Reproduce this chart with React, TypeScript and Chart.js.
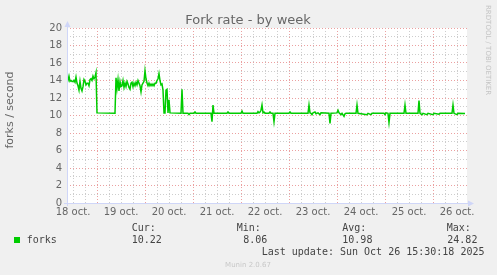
import React, { useEffect, useRef } from 'react';
import { Chart, registerables } from 'chart.js';

Chart.register(...registerables);

const TITLE = 'Fork rate - by week';
const Y_TITLE = 'forks / second';
const SIDE_TEXT = 'RRDTOOL / TOBI OETIKER';
const FOOTER = 'Munin 2.0.67';
const LAST_UPDATE = 'Last update: Sun Oct 26 15:30:18 2025';

// x axis: 30-minute slots starting 18 oct. 09:00 (slot 0), 400 slots shown
const dayLabels = ['18 oct.', '19 oct.', '20 oct.', '21 oct.', '22 oct.', '23 oct.', '24 oct.', '25 oct.', '26 oct.'];

const slots = [
  0, 1, 2, 3, 4, 5, 6, 7, 8, 9, 10, 11, 12, 13, 14, 15, 16, 17, 18, 19, 20, 21, 22, 23, 24, 25, 26, 27, 28, 29,
  30, 48,
  49, 50, 51, 52, 53, 54, 55, 56, 57, 58, 59, 60, 61, 62, 63, 64, 65, 66, 67, 68, 69, 70, 71, 72,
  73, 74, 75, 76, 77, 78, 79, 80, 81, 82, 83, 84, 85, 86, 87, 88, 89, 90, 91, 92, 93, 94, 95, 96,
  97, 98, 99, 100, 101, 102, 103,
  114, 115, 116, 121, 122, 123, 127, 128, 129,
  144, 145, 146, 147, 160, 161, 162, 174, 175, 176,
  190, 191, 192, 193, 194, 195, 196, 197, 198, 202, 203, 204, 206, 207, 208,
  222, 223, 224, 241, 242, 243, 244, 245, 246, 248, 249, 251, 253, 254,
  262, 263, 264, 270, 271, 272, 274, 275, 277, 278, 279,
  289, 290, 291, 300, 301, 304, 305,
  317, 318, 319, 321, 322, 323, 337, 338, 339,
  351, 352, 353, 355, 356, 360, 361, 366, 367, 372, 373,
  385, 386, 387, 390, 391, 398,
];

const forks = [
  13.7, 14.0, 14.5, 13.9, 14.0, 13.9, 13.9, 14.0, 13.8, 14.4, 13.7, 13.4, 12.9, 13.9, 13.1, 12.8, 13.3, 14.1, 13.9, 13.5,
  13.7, 13.7, 13.4, 14.1, 14.2, 14.0, 14.5, 14.2, 14.4, 14.9,
  10.3, 10.25,
  14.3, 13.1, 14.1, 12.8, 13.9, 13.3, 13.4, 14.0, 13.2, 13.7, 13.3, 13.9, 13.6, 13.2, 13.0, 13.7, 13.8, 13.3, 13.7, 13.4,
  13.8, 13.5, 14.0, 13.7, 13.4, 12.7, 13.5, 13.7, 13.9, 15.1, 14.2, 13.7, 13.4, 13.7, 13.4, 13.6, 13.4, 13.6, 13.4, 13.7,
  13.7, 14.0, 14.2, 14.8, 14.0, 13.5, 13.6, 12.9,
  10.3, 10.3, 12.9, 13.0, 10.3, 11.8, 10.3,
  10.25, 13.0, 10.25, 10.25, 10.1, 10.25, 10.25, 10.4, 10.25,
  10.25, 9.3, 11.2, 10.25, 10.25, 10.4, 10.25, 10.25, 10.5, 10.25,
  10.25, 10.45, 10.3, 10.4, 10.6, 11.2, 10.3, 10.4, 10.25, 10.25, 10.4, 10.25, 10.25, 9.3, 10.25,
  10.25, 10.4, 10.25, 10.25, 11.2, 10.3, 10.25, 10.1, 10.3, 10.4, 10.2, 10.3, 10.1, 10.3,
  10.25, 9.1, 10.25, 10.3, 10.6, 10.3, 10.1, 10.25, 9.9, 10.2, 10.25,
  10.25, 11.2, 10.25, 10.1, 10.25, 10.1, 10.25,
  10.25, 10.1, 10.3, 10.25, 9.2, 10.25, 10.25, 11.2, 10.25,
  10.25, 11.7, 10.25, 10.1, 10.25, 10.1, 10.25, 10.1, 10.25, 10.15, 10.25,
  10.25, 11.2, 10.25, 10.1, 10.25, 10.22,
];

const statLabels = ['Cur:', 'Min:', 'Avg:', 'Max:'];
const statValues = ['10.22', '8.06', '10.98', '24.82'];
const seriesName = 'forks';

const LINE_COLOR = '#00cc00';
const RED_GRID = '#eba0a0';
const GRAY_GRID = '#cdcdcd';
const AXIS_COLOR = '#cfd6f8';
const FONT_COLOR = '#666666';

const W = 497;
const H = 275;

const decorPlugin = {
  id: 'muninDecor',
  beforeDraw(chart: any) {
    const { ctx, chartArea } = chart;
    ctx.save();
    ctx.fillStyle = '#f0f0f0';
    ctx.fillRect(0, 0, W, H);
    ctx.fillStyle = '#ffffff';
    ctx.fillRect(chartArea.left, chartArea.top, chartArea.right - chartArea.left, chartArea.bottom - chartArea.top);
    ctx.restore();
  },
  afterDraw(chart: any) {
    const { ctx, chartArea } = chart;
    const { left, right, top, bottom } = chartArea;
    ctx.save();
    // axes
    ctx.strokeStyle = AXIS_COLOR;
    ctx.lineWidth = 1;
    ctx.beginPath();
    ctx.moveTo(left - 3, bottom + 0.5);
    ctx.lineTo(right + 3, bottom + 0.5);
    ctx.moveTo(left + 0.5, bottom + 3);
    ctx.lineTo(left + 0.5, top - 3);
    ctx.stroke();
    ctx.fillStyle = AXIS_COLOR;
    ctx.beginPath();
    ctx.moveTo(left + 0.5, top - 7);
    ctx.lineTo(left - 2.5, top - 1);
    ctx.lineTo(left + 3.5, top - 1);
    ctx.closePath();
    ctx.fill();
    ctx.beginPath();
    ctx.moveTo(right + 7, bottom + 0.5);
    ctx.lineTo(right + 1, bottom - 2.5);
    ctx.lineTo(right + 1, bottom + 3.5);
    ctx.closePath();
    ctx.fill();

    // title
    ctx.fillStyle = FONT_COLOR;
    ctx.font = '13px "DejaVu Sans"';
    ctx.textAlign = 'center';
    ctx.textBaseline = 'alphabetic';
    ctx.fillText(TITLE, 248, 24);

    // y title
    ctx.save();
    ctx.translate(13, 110);
    ctx.rotate(-Math.PI / 2);
    ctx.font = '11px "DejaVu Sans"';
    ctx.textAlign = 'center';
    ctx.fillText(Y_TITLE, 0, 0);
    ctx.restore();

    // side text
    ctx.save();
    ctx.translate(486, 5);
    ctx.rotate(Math.PI / 2);
    ctx.font = '7px "DejaVu Sans"';
    ctx.fillStyle = '#c4c4c4';
    ctx.textAlign = 'left';
    ctx.fillText(SIDE_TEXT, 0, 0);
    ctx.restore();

    // legend
    ctx.font = '10px "DejaVu Sans Mono"';
    ctx.fillStyle = '#444444';
    ctx.textAlign = 'left';
    const labelX = [131.7, 236.7, 342.3, 446.7];
    const valueX = [131.7, 243.3, 342.3, 447.3];
    statLabels.forEach((s, i) => ctx.fillText(s, labelX[i], 231));
    statValues.forEach((s, i) => ctx.fillText(s, valueX[i], 242.5));
    ctx.fillText(seriesName, 26.7, 242.5);
    ctx.fillText(LAST_UPDATE, 261.7, 255);
    ctx.fillStyle = LINE_COLOR;
    ctx.fillRect(14, 237, 6, 6);

    // footer
    ctx.font = '7px "DejaVu Sans"';
    ctx.fillStyle = '#c8c8c8';
    ctx.textAlign = 'center';
    ctx.fillText(FOOTER, 248, 267);
    ctx.restore();
  },
};

export default function App() {
  const ref = useRef<HTMLCanvasElement | null>(null);

  useEffect(() => {
    if (!ref.current) return;
    const chart = new Chart(ref.current, {
      type: 'line',
      data: {
        datasets: [
          {
            label: seriesName,
            data: slots.map((s, i) => ({ x: s, y: forks[i] })),
            borderColor: LINE_COLOR,
            backgroundColor: LINE_COLOR,
            borderWidth: 1.5,
            pointRadius: 0,
            tension: 0,
          },
        ],
      },
      options: {
        responsive: false,
        animation: false,
        devicePixelRatio: 1,
        layout: { padding: { top: 28, right: 30, left: 0, bottom: 0 } },
        plugins: { legend: { display: false }, tooltip: { enabled: false }, title: { display: false } },
        scales: {
          x: {
            type: 'linear',
            min: 0,
            max: 400,
            afterFit: (scale: any) => {
              scale.height = 72;
            },
            afterBuildTicks: (scale: any) => {
              const t = [];
              for (let v = 6; v <= 400; v += 12) t.push({ value: v });
              scale.ticks = t;
            },
            ticks: {
              autoSkip: false,
              maxRotation: 0,
              minRotation: 0,
              padding: 3,
              color: FONT_COLOR,
              font: { family: 'DejaVu Sans', size: 10 },
              callback: (v: any) => {
                const n = Number(v);
                return (n - 6) % 48 === 0 ? dayLabels[(n - 6) / 48] : '';
              },
            },
            grid: {
              drawTicks: false,
              lineWidth: 1,
              color: (c: any) => (c.tick && (c.tick.value - 30) % 48 === 0 ? RED_GRID : GRAY_GRID),
            },
            border: { display: false, dash: [1, 2] },
          },
          y: {
            type: 'linear',
            min: 0,
            max: 20,
            afterFit: (scale: any) => {
              scale.width = 67;
            },
            ticks: {
              stepSize: 1,
              autoSkip: false,
              padding: 5,
              color: FONT_COLOR,
              font: { family: 'DejaVu Sans', size: 10 },
              callback: (v: any) => (Number(v) % 2 === 0 ? String(v) : ''),
            },
            grid: {
              drawTicks: false,
              lineWidth: 1,
              color: (c: any) => (c.tick && c.tick.value % 2 === 0 ? RED_GRID : GRAY_GRID),
            },
            border: { display: false, dash: [1, 2] },
          },
        },
      },
      plugins: [decorPlugin],
    } as any);
    return () => chart.destroy();
  }, []);

  return (
    <div style={{ position: 'fixed', left: 0, top: 0, width: W, height: H, background: '#f0f0f0' }}>
      <canvas ref={ref} width={W} height={H} style={{ display: 'block', width: W, height: H }} />
    </div>
  );
}
